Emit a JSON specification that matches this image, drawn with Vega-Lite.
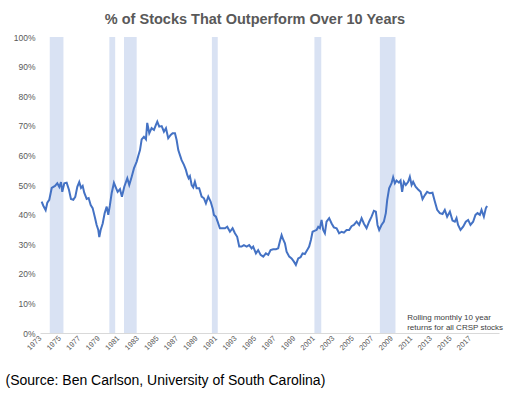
{
  "$schema": "https://vega.github.io/schema/vega-lite/v6.json",
  "width": 459,
  "height": 296,
  "autosize": {"type": "none"},
  "padding": {"left": 40, "top": 37, "right": 16, "bottom": 66},
  "background": "white",
  "title": {"text": "% of Stocks That Outperform Over 10 Years", "font": "Liberation Sans", "fontSize": 14.5, "fontWeight": "bold", "color": "#595959", "anchor": "middle", "dx": -14.5, "offset": 6},
  "config": {
    "view": {"stroke": null},
    "font": "Liberation Sans",
    "axis": {"labelOverlap": false, "labelFlush": false, "labelBound": false, "ticks": false, "tickSize": 0, "grid": false, "labelColor": "#595959", "labelSeparation": 0},
    "axisX": {"labelAngle": -45, "labelAlign": "right", "labelBaseline": "middle", "labelFontSize": 7.5, "labelPadding": 4, "domainColor": "#d9d9d9", "domainWidth": 1, "format": "d",
      "titleFontSize": 14, "titleFontWeight": "normal", "titleColor": "#000000", "titleAlign": "left", "titleBaseline": "middle", "titleX": -35, "titleY": 47, "titleAnchor": "start"},
    "axisY": {"labelFontSize": 8.5, "labelPadding": 5, "domain": false}
  },
  "datasets": {
    "recessions": [
      {"start": 1974.0, "end": 1975.4},
      {"start": 1980.1, "end": 1980.7},
      {"start": 1981.6, "end": 1982.9},
      {"start": 1990.6, "end": 1991.2},
      {"start": 2001.1, "end": 2001.8},
      {"start": 2007.8, "end": 2009.4}
    ],
    "series": [
      {"year": 1973.17, "pct": 44.4}, {"year": 1973.34, "pct": 43.0}, {"year": 1973.58, "pct": 41.5}, {"year": 1973.75, "pct": 44.0},
      {"year": 1973.95, "pct": 45.0}, {"year": 1974.20, "pct": 49.0}, {"year": 1974.54, "pct": 49.7}, {"year": 1974.77, "pct": 50.6},
      {"year": 1974.98, "pct": 49.3}, {"year": 1975.15, "pct": 51.0}, {"year": 1975.28, "pct": 47.7}, {"year": 1975.49, "pct": 50.6},
      {"year": 1975.73, "pct": 50.8}, {"year": 1975.97, "pct": 48.3}, {"year": 1976.17, "pct": 45.3}, {"year": 1976.41, "pct": 45.0},
      {"year": 1976.61, "pct": 46.0}, {"year": 1976.82, "pct": 49.4}, {"year": 1977.02, "pct": 51.0}, {"year": 1977.20, "pct": 49.0},
      {"year": 1977.37, "pct": 49.7}, {"year": 1977.53, "pct": 47.4}, {"year": 1977.78, "pct": 45.3}, {"year": 1977.98, "pct": 45.6},
      {"year": 1978.19, "pct": 43.2}, {"year": 1978.39, "pct": 42.2}, {"year": 1978.63, "pct": 38.9}, {"year": 1978.80, "pct": 36.5},
      {"year": 1978.97, "pct": 34.8}, {"year": 1979.07, "pct": 32.4}, {"year": 1979.21, "pct": 34.8}, {"year": 1979.42, "pct": 37.0},
      {"year": 1979.62, "pct": 40.5}, {"year": 1979.83, "pct": 42.7}, {"year": 1979.99, "pct": 39.9}, {"year": 1980.16, "pct": 43.2},
      {"year": 1980.34, "pct": 47.3}, {"year": 1980.57, "pct": 50.7}, {"year": 1980.78, "pct": 49.0}, {"year": 1980.95, "pct": 47.7},
      {"year": 1981.19, "pct": 48.6}, {"year": 1981.39, "pct": 46.0}, {"year": 1981.63, "pct": 49.4}, {"year": 1981.94, "pct": 52.3},
      {"year": 1982.14, "pct": 50.0}, {"year": 1982.39, "pct": 52.8}, {"year": 1982.62, "pct": 55.6}, {"year": 1982.90, "pct": 57.9},
      {"year": 1983.06, "pct": 59.8}, {"year": 1983.24, "pct": 61.8}, {"year": 1983.41, "pct": 65.4}, {"year": 1983.64, "pct": 66.3},
      {"year": 1983.85, "pct": 65.4}, {"year": 1983.98, "pct": 71.0}, {"year": 1984.19, "pct": 67.5}, {"year": 1984.43, "pct": 69.2},
      {"year": 1984.67, "pct": 68.6}, {"year": 1984.87, "pct": 70.3}, {"year": 1985.01, "pct": 71.4}, {"year": 1985.21, "pct": 69.7},
      {"year": 1985.46, "pct": 69.9}, {"year": 1985.69, "pct": 68.0}, {"year": 1985.90, "pct": 69.2}, {"year": 1986.13, "pct": 65.8},
      {"year": 1986.38, "pct": 66.9}, {"year": 1986.58, "pct": 67.5}, {"year": 1986.82, "pct": 67.5}, {"year": 1986.99, "pct": 65.2},
      {"year": 1987.16, "pct": 61.8}, {"year": 1987.33, "pct": 60.1}, {"year": 1987.50, "pct": 58.4}, {"year": 1987.74, "pct": 56.8},
      {"year": 1987.94, "pct": 55.1}, {"year": 1988.08, "pct": 53.4}, {"year": 1988.22, "pct": 52.3}, {"year": 1988.35, "pct": 53.0},
      {"year": 1988.53, "pct": 50.0}, {"year": 1988.69, "pct": 49.2}, {"year": 1988.86, "pct": 51.1}, {"year": 1989.04, "pct": 48.9},
      {"year": 1989.30, "pct": 48.9}, {"year": 1989.55, "pct": 46.1}, {"year": 1989.79, "pct": 45.5}, {"year": 1989.99, "pct": 43.8},
      {"year": 1990.23, "pct": 46.1}, {"year": 1990.47, "pct": 44.4}, {"year": 1990.68, "pct": 42.1}, {"year": 1990.81, "pct": 39.9},
      {"year": 1991.01, "pct": 39.3}, {"year": 1991.19, "pct": 37.6}, {"year": 1991.42, "pct": 35.4}, {"year": 1991.70, "pct": 35.4},
      {"year": 1991.94, "pct": 35.4}, {"year": 1992.17, "pct": 35.9}, {"year": 1992.45, "pct": 34.2}, {"year": 1992.72, "pct": 35.4},
      {"year": 1992.96, "pct": 33.7}, {"year": 1993.19, "pct": 32.5}, {"year": 1993.40, "pct": 29.2}, {"year": 1993.64, "pct": 29.2},
      {"year": 1993.88, "pct": 29.7}, {"year": 1994.16, "pct": 29.2}, {"year": 1994.42, "pct": 29.7}, {"year": 1994.67, "pct": 28.6},
      {"year": 1994.83, "pct": 29.2}, {"year": 1995.11, "pct": 26.9}, {"year": 1995.34, "pct": 28.0}, {"year": 1995.59, "pct": 26.4},
      {"year": 1995.86, "pct": 25.8}, {"year": 1996.13, "pct": 26.9}, {"year": 1996.37, "pct": 26.4}, {"year": 1996.61, "pct": 28.0},
      {"year": 1996.88, "pct": 28.3}, {"year": 1997.16, "pct": 28.3}, {"year": 1997.39, "pct": 28.6}, {"year": 1997.56, "pct": 30.9},
      {"year": 1997.74, "pct": 33.1}, {"year": 1997.90, "pct": 31.6}, {"year": 1998.08, "pct": 30.3}, {"year": 1998.25, "pct": 27.5},
      {"year": 1998.52, "pct": 25.8}, {"year": 1998.76, "pct": 25.2}, {"year": 1999.00, "pct": 24.1}, {"year": 1999.20, "pct": 23.0},
      {"year": 1999.44, "pct": 25.2}, {"year": 1999.68, "pct": 25.6}, {"year": 1999.89, "pct": 26.9}, {"year": 2000.12, "pct": 26.7},
      {"year": 2000.36, "pct": 28.0}, {"year": 2000.56, "pct": 29.2}, {"year": 2000.74, "pct": 31.4}, {"year": 2000.91, "pct": 34.2},
      {"year": 2001.15, "pct": 34.6}, {"year": 2001.32, "pct": 34.8}, {"year": 2001.49, "pct": 35.9}, {"year": 2001.66, "pct": 35.4},
      {"year": 2001.83, "pct": 38.2}, {"year": 2002.00, "pct": 34.8}, {"year": 2002.17, "pct": 33.7}, {"year": 2002.34, "pct": 37.6},
      {"year": 2002.61, "pct": 38.8}, {"year": 2002.86, "pct": 37.0}, {"year": 2003.09, "pct": 35.7}, {"year": 2003.37, "pct": 35.4},
      {"year": 2003.63, "pct": 33.7}, {"year": 2003.88, "pct": 34.2}, {"year": 2004.12, "pct": 33.9}, {"year": 2004.39, "pct": 34.8},
      {"year": 2004.66, "pct": 34.8}, {"year": 2004.90, "pct": 36.1}, {"year": 2005.14, "pct": 36.5}, {"year": 2005.42, "pct": 37.6},
      {"year": 2005.68, "pct": 36.5}, {"year": 2005.93, "pct": 38.8}, {"year": 2006.16, "pct": 37.0}, {"year": 2006.44, "pct": 35.4},
      {"year": 2006.70, "pct": 37.6}, {"year": 2006.95, "pct": 39.3}, {"year": 2007.19, "pct": 41.3}, {"year": 2007.39, "pct": 41.0},
      {"year": 2007.56, "pct": 36.5}, {"year": 2007.73, "pct": 34.8}, {"year": 2007.97, "pct": 36.5}, {"year": 2008.21, "pct": 37.6},
      {"year": 2008.41, "pct": 40.5}, {"year": 2008.55, "pct": 44.9}, {"year": 2008.75, "pct": 48.9}, {"year": 2009.00, "pct": 50.6},
      {"year": 2009.16, "pct": 52.6}, {"year": 2009.34, "pct": 50.6}, {"year": 2009.51, "pct": 51.5}, {"year": 2009.75, "pct": 50.8},
      {"year": 2009.92, "pct": 51.5}, {"year": 2010.08, "pct": 47.7}, {"year": 2010.26, "pct": 51.1}, {"year": 2010.46, "pct": 50.0},
      {"year": 2010.70, "pct": 51.1}, {"year": 2010.87, "pct": 52.8}, {"year": 2011.05, "pct": 50.0}, {"year": 2011.21, "pct": 51.1},
      {"year": 2011.46, "pct": 49.4}, {"year": 2011.72, "pct": 48.5}, {"year": 2011.97, "pct": 47.7}, {"year": 2012.17, "pct": 45.2},
      {"year": 2012.41, "pct": 46.6}, {"year": 2012.64, "pct": 47.7}, {"year": 2012.92, "pct": 47.2}, {"year": 2013.19, "pct": 47.4},
      {"year": 2013.43, "pct": 44.4}, {"year": 2013.67, "pct": 41.6}, {"year": 2013.94, "pct": 40.5}, {"year": 2014.22, "pct": 40.2},
      {"year": 2014.45, "pct": 41.6}, {"year": 2014.69, "pct": 39.3}, {"year": 2014.97, "pct": 41.0}, {"year": 2015.24, "pct": 38.0},
      {"year": 2015.48, "pct": 37.6}, {"year": 2015.65, "pct": 38.8}, {"year": 2015.81, "pct": 36.5}, {"year": 2016.06, "pct": 34.8},
      {"year": 2016.33, "pct": 35.9}, {"year": 2016.60, "pct": 37.6}, {"year": 2016.84, "pct": 38.2}, {"year": 2017.08, "pct": 36.5},
      {"year": 2017.35, "pct": 37.6}, {"year": 2017.59, "pct": 39.9}, {"year": 2017.80, "pct": 40.5}, {"year": 2018.04, "pct": 39.9},
      {"year": 2018.21, "pct": 41.6}, {"year": 2018.45, "pct": 39.3}, {"year": 2018.65, "pct": 42.1}, {"year": 2018.78, "pct": 42.9}
    ]
  },
  "layer": [
    {
      "data": {"name": "recessions"},
      "mark": {"type": "rect", "color": "#d9e2f3"},
      "encoding": {
        "x": {"field": "start", "type": "quantitative", "scale": {"domain": [1973, 2020], "nice": false, "zero": false},
          "axis": {"values": [1973, 1975, 1977, 1979, 1981, 1983, 1985, 1987, 1989, 1991, 1993, 1995, 1997, 1999, 2001, 2003, 2005, 2007, 2009, 2011, 2013, 2015, 2017], "labelOverlap": false, "title": "(Source: Ben Carlson, University of South Carolina)"}},
        "x2": {"field": "end"},
        "y": {"datum": 0, "type": "quantitative", "scale": {"domain": [0, 100], "nice": false},
          "axis": {"values": [0, 10, 20, 30, 40, 50, 60, 70, 80, 90, 100], "labelOverlap": false, "labelExpr": "datum.value + '%'", "title": null}},
        "y2": {"datum": 100}
      }
    },
    {
      "data": {"name": "series"},
      "mark": {"type": "line", "color": "#4472c4", "strokeWidth": 2},
      "encoding": {
        "x": {"field": "year", "type": "quantitative", "scale": {"domain": [1973, 2020], "nice": false, "zero": false},
          "axis": {"values": [1973, 1975, 1977, 1979, 1981, 1983, 1985, 1987, 1989, 1991, 1993, 1995, 1997, 1999, 2001, 2003, 2005, 2007, 2009, 2011, 2013, 2015, 2017], "labelOverlap": false, "title": "(Source: Ben Carlson, University of South Carolina)"}},
        "y": {"field": "pct", "type": "quantitative", "scale": {"domain": [0, 100], "nice": false},
          "axis": {"values": [0, 10, 20, 30, 40, 50, 60, 70, 80, 90, 100], "labelOverlap": false, "labelExpr": "datum.value + '%'", "title": null}}
      }
    },
    {
      "data": {"values": [{}]},
      "mark": {"type": "text", "text": ["Rolling monthly 10 year", "returns for all CRSP stocks"], "align": "left", "baseline": "top", "fontSize": 8, "lineHeight": 9.5, "color": "#404040"},
      "encoding": {
        "x": {"datum": 2010.6, "type": "quantitative",
          "axis": {"values": [1973, 1975, 1977, 1979, 1981, 1983, 1985, 1987, 1989, 1991, 1993, 1995, 1997, 1999, 2001, 2003, 2005, 2007, 2009, 2011, 2013, 2015, 2017], "labelOverlap": false, "title": "(Source: Ben Carlson, University of South Carolina)"}},
        "y": {"datum": 6.4, "type": "quantitative",
          "axis": {"values": [0, 10, 20, 30, 40, 50, 60, 70, 80, 90, 100], "labelOverlap": false, "labelExpr": "datum.value + '%'", "title": null}}
      }
    }
  ]
}
